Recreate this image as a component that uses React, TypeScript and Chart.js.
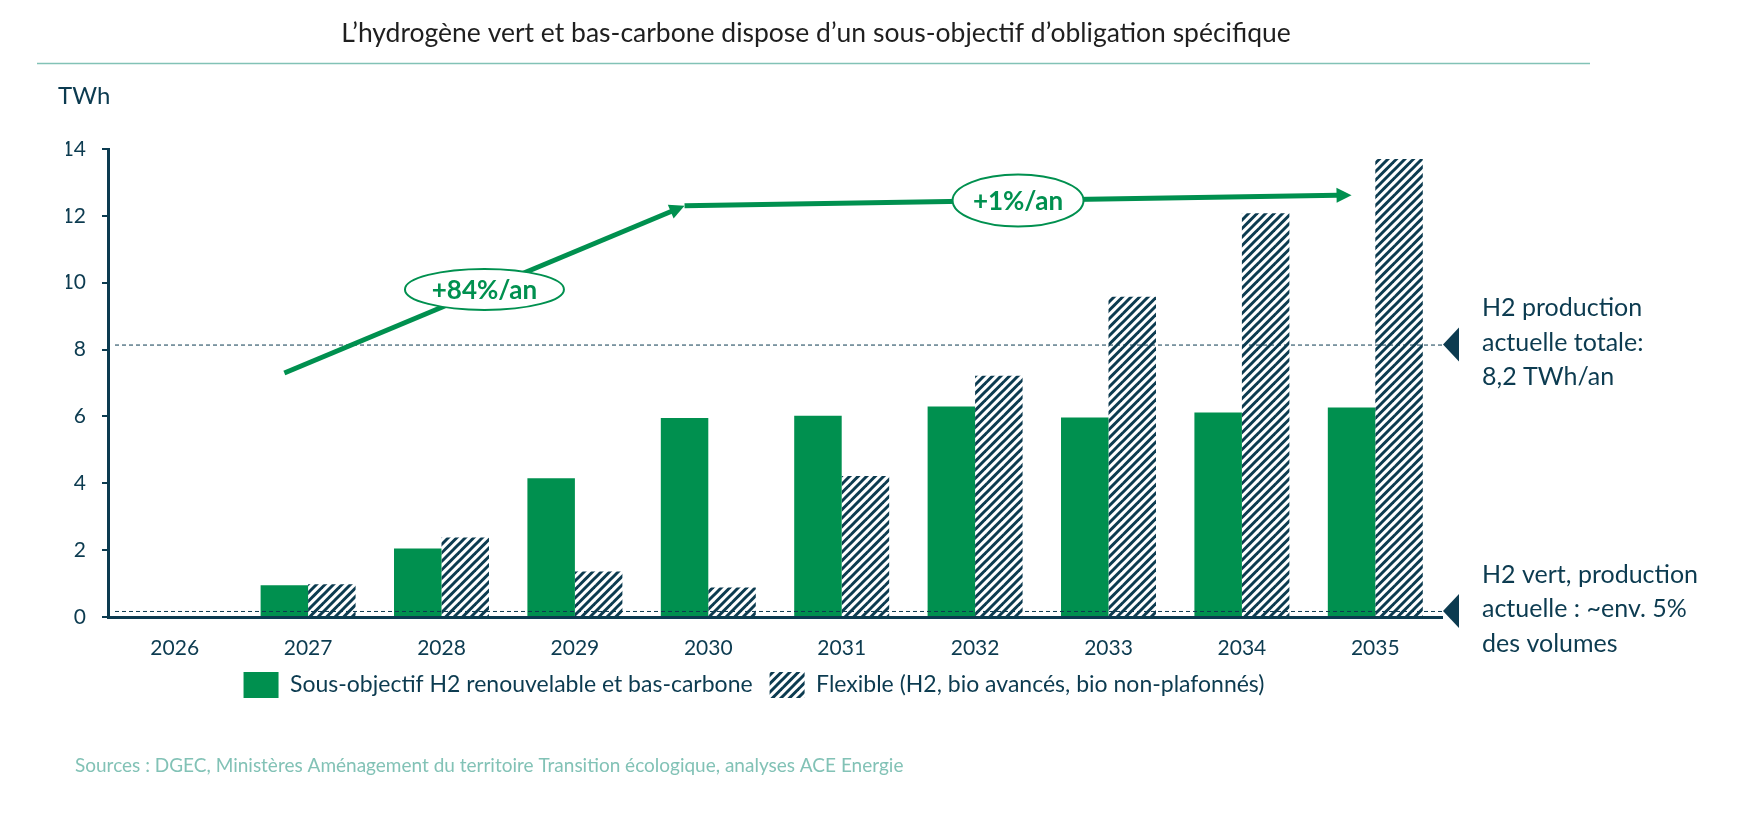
import React, { useEffect, useRef } from 'react';
import { Chart, registerables } from 'chart.js';

Chart.register(...registerables);

// ---------- data ----------
const years = ['2026', '2027', '2028', '2029', '2030', '2031', '2032', '2033', '2034', '2035'];
const sousObjectifH2 = [0, 0.95, 2.05, 4.15, 5.95, 6.02, 6.3, 5.97, 6.12, 6.27];
const flexible = [0, 0.98, 2.38, 1.36, 0.88, 4.22, 7.22, 9.58, 12.08, 13.7];
const yTickValues = [0, 2, 4, 6, 8, 10, 12, 14];
const seriesLabels = [
  'Sous-objectif H2 renouvelable et bas-carbone',
  'Flexible (H2, bio avancés, bio non-plafonnés)',
];
const referenceValues = [8.15, 0.18];
const referenceTexts = [
  ['H2 production', 'actuelle totale:', '8,2 TWh/an'],
  ['H2 vert, production', 'actuelle : ~env. 5%', 'des volumes'],
];
const trendYearIndex = [1, 4, 9];
const trendValues = [7.3, 12.3, 12.62];
const trendLabels = ['+84%/an', '+1%/an'];
const titleText = 'L’hydrogène vert et bas-carbone dispose d’un sous-objectif d’obligation spécifique';
const unitText = 'TWh';
const sourceText =
  'Sources : DGEC, Ministères Aménagement du territoire Transition écologique, analyses ACE Energie';

// ---------- styles ----------
const GREEN = '#00904f';
const NAVY = '#0c3b50';
const TEAL = '#82c2b6';
const TITLE_COLOR = '#1f1f1f';
const FONT = 'Lato, "Open Sans", sans-serif';
const badgeSizes = [
  { w: 159, h: 41 },
  { w: 131, h: 52 },
];

function drawArrow(ctx: CanvasRenderingContext2D, x0: number, y0: number, x1: number, y1: number) {
  const ang = Math.atan2(y1 - y0, x1 - x0);
  const head = 15;
  const half = 7.5;
  const c = Math.cos(ang);
  const s = Math.sin(ang);
  const bx = x1 - head * c;
  const by = y1 - head * s;
  ctx.lineWidth = 5;
  ctx.strokeStyle = GREEN;
  ctx.lineCap = 'butt';
  ctx.beginPath();
  ctx.moveTo(x0, y0);
  ctx.lineTo(bx + c, by + s);
  ctx.stroke();
  ctx.fillStyle = GREEN;
  ctx.beginPath();
  ctx.moveTo(x1, y1);
  ctx.lineTo(bx - half * s, by + half * c);
  ctx.lineTo(bx + half * s, by - half * c);
  ctx.closePath();
  ctx.fill();
}

const extrasPlugin = {
  id: 'extras',
  afterDatasetsDraw(chart: any) {
    const { ctx, chartArea } = chart;
    const y = chart.scales.y;
    const meta = chart.getDatasetMeta(0);
    ctx.save();
    // reference lines with markers and texts
    referenceValues.forEach((v, i) => {
      const py = y.getPixelForValue(v);
      ctx.setLineDash([4, 3]);
      ctx.lineWidth = 1;
      ctx.strokeStyle = NAVY;
      ctx.beginPath();
      ctx.moveTo(chartArea.left + 7, py + 0.5);
      ctx.lineTo(chartArea.right, py + 0.5);
      ctx.stroke();
      ctx.setLineDash([]);
      ctx.fillStyle = NAVY;
      ctx.beginPath();
      ctx.moveTo(chartArea.right + 1, py);
      ctx.lineTo(chartArea.right + 17, py - 17);
      ctx.lineTo(chartArea.right + 17, py + 17);
      ctx.closePath();
      ctx.fill();
      ctx.font = `25px ${FONT}`;
      ctx.textAlign = 'left';
      ctx.textBaseline = 'middle';
      referenceTexts[i].forEach((t, k) => {
        ctx.fillText(t, chartArea.right + 40, py + (k - 1) * 34.5 - 2);
      });
    });
    // trend arrows
    const pts = trendYearIndex.map((idx, i) => ({
      x: meta.data[idx].x,
      y: y.getPixelForValue(trendValues[i]),
    }));
    for (let i = 0; i < pts.length - 1; i++) {
      drawArrow(ctx, pts[i].x, pts[i].y, pts[i + 1].x, pts[i + 1].y);
    }
    // badges
    trendLabels.forEach((label, i) => {
      const cx = (pts[i].x + pts[i + 1].x) / 2;
      const cy = (pts[i].y + pts[i + 1].y) / 2;
      const { w, h } = badgeSizes[i];
      ctx.beginPath();
      ctx.ellipse(cx, cy, w / 2, h / 2, 0, 0, Math.PI * 2);
      ctx.fillStyle = '#ffffff';
      ctx.fill();
      ctx.lineWidth = 2;
      ctx.strokeStyle = GREEN;
      ctx.stroke();
      ctx.fillStyle = GREEN;
      ctx.font = `bold 26px ${FONT}`;
      ctx.textAlign = 'center';
      ctx.textBaseline = 'middle';
      ctx.fillText(label, cx, cy + 1);
    });
    ctx.restore();
  },
  afterDraw(chart: any) {
    const { ctx } = chart;
    ctx.save();
    ctx.fillStyle = TITLE_COLOR;
    ctx.font = `26.5px ${FONT}`;
    ctx.textAlign = 'center';
    ctx.textBaseline = 'middle';
    ctx.fillText(titleText, 816, 33);
    ctx.strokeStyle = TEAL;
    ctx.lineWidth = 1.5;
    ctx.beginPath();
    ctx.moveTo(37, 63.5);
    ctx.lineTo(1590, 63.5);
    ctx.stroke();
    ctx.fillStyle = NAVY;
    ctx.font = `24px ${FONT}`;
    ctx.textAlign = 'left';
    ctx.fillText(unitText, 58, 96);
    ctx.fillStyle = TEAL;
    ctx.font = `19px ${FONT}`;
    ctx.fillText(sourceText, 75, 766);
    ctx.restore();
  },
};

export default function App() {
  const ref = useRef<HTMLCanvasElement>(null);
  useEffect(() => {
    const canvas = ref.current!;
    const tile = document.createElement('canvas');
    tile.width = 17;
    tile.height = 17;
    const t = tile.getContext('2d')!;
    t.fillStyle = '#ffffff';
    t.fillRect(0, 0, 17, 17);
    t.strokeStyle = NAVY;
    t.lineWidth = 3;
    for (let c = -17; c <= 51; c += 8.5) {
      t.beginPath();
      t.moveTo(-4, c + 4);
      t.lineTo(c + 4, -4);
      t.stroke();
    }
    const hatch = canvas.getContext('2d')!.createPattern(tile, 'repeat')!;

    const chart = new Chart(canvas, {
      type: 'bar',
      data: {
        labels: years,
        datasets: [
          {
            label: seriesLabels[0],
            data: sousObjectifH2,
            backgroundColor: GREEN,
            borderWidth: 0,
            categoryPercentage: 0.712,
            barPercentage: 1,
          },
          {
            label: seriesLabels[1],
            data: flexible,
            backgroundColor: hatch as any,
            borderWidth: 0,
            categoryPercentage: 0.712,
            barPercentage: 1,
          },
        ],
      },
      options: {
        responsive: false,
        animation: false,
        devicePixelRatio: 1,
        events: [],
        layout: { padding: { left: 66, right: 299, top: 149, bottom: 116 } },
        plugins: {
          legend: {
            position: 'bottom',
            labels: {
              boxWidth: 35,
              boxHeight: 26,
              padding: 17,
              color: NAVY,
              font: { family: FONT, size: 23 },
            },
          },
          tooltip: { enabled: false },
          title: { display: false },
        },
        scales: {
          x: {
            grid: { display: false },
            border: { display: true, color: NAVY, width: 3 },
            ticks: { color: NAVY, font: { family: FONT, size: 21 }, padding: 11 },
            afterFit: (s: any) => {
              s.height = 38;
            },
          },
          y: {
            min: 0,
            max: 14,
            grid: { drawOnChartArea: false, drawTicks: true, tickLength: 6, color: NAVY, lineWidth: 2 },
            border: { display: true, color: NAVY, width: 3 },
            ticks: { color: NAVY, font: { family: FONT, size: 21 }, padding: 16 },
            afterBuildTicks: (s: any) => {
              s.ticks = yTickValues.map((v) => ({ value: v }));
            },
            afterFit: (s: any) => {
              s.width = 42;
            },
          },
        },
      },
      plugins: [extrasPlugin],
    });
    return () => chart.destroy();
  }, []);

  return (
    <div style={{ position: 'fixed', left: 0, top: 0, width: 1741, height: 824, background: '#ffffff' }}>
      <canvas ref={ref} width={1741} height={824} style={{ display: 'block', width: 1741, height: 824 }} />
    </div>
  );
}
